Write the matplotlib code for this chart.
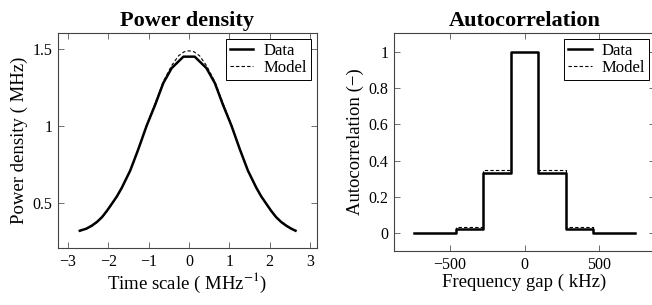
import numpy as np
import matplotlib
matplotlib.use("Agg")
import matplotlib.pyplot as plt

plt.rcParams["font.family"] = ["Liberation Serif", "DejaVu Serif"]
plt.rcParams["mathtext.fontset"] = "stix"

# power density (left panel)
t_data = [-2.71, -2.55, -2.41, -2.28, -2.16, -2.04, -1.92, -1.79, -1.67, -1.46,
          -1.26, -1.05, -0.84, -0.64, -0.43, -0.14, 0.14, 0.43, 0.64, 0.84,
          1.05, 1.26, 1.46, 1.67, 1.79, 1.92, 2.04, 2.16, 2.28, 2.41,
          2.53, 2.64]
p_data = [0.322, 0.335, 0.355, 0.380, 0.410, 0.450, 0.495, 0.545, 0.600, 0.712,
          0.850, 1.005, 1.140, 1.280, 1.378, 1.452, 1.452, 1.378, 1.280, 1.140,
          1.005, 0.850, 0.712, 0.600, 0.545, 0.495, 0.450, 0.410, 0.380, 0.355,
          0.336, 0.322]
t_model = [-2.71, -2.55, -2.41, -2.28, -2.16, -2.04, -1.92, -1.79, -1.67, -1.46,
           -1.26, -1.05, -0.84, -0.64, -0.43, -0.26, -0.12, 0.0, 0.12, 0.26,
           0.43, 0.64, 0.84, 1.05, 1.26, 1.46, 1.67, 1.79, 1.92, 2.04,
           2.16, 2.28, 2.41, 2.53, 2.64]
p_model = [0.320, 0.333, 0.352, 0.377, 0.407, 0.447, 0.492, 0.543, 0.598, 0.712,
           0.852, 1.010, 1.150, 1.290, 1.395, 1.458, 1.484, 1.490, 1.484, 1.458,
           1.395, 1.290, 1.150, 1.010, 0.852, 0.712, 0.598, 0.543, 0.492, 0.447,
           0.407, 0.377, 0.352, 0.334, 0.320]

# autocorrelation (right panel)
gap = [-740, -555, -370, -185, 0, 185, 370, 555, 740]
ac_data = [0.0, 0.0, 0.02, 0.33, 1.0, 0.33, 0.02, 0.0, 0.0]
ac_model = [0.0, 0.0, 0.033, 0.348, 1.0, 0.348, 0.033, 0.0, 0.0]

fig = plt.figure(figsize=(6.52, 3.05), dpi=100)
ax1 = fig.add_axes([0.089, 0.187, 0.397, 0.705])
ax2 = fig.add_axes([0.604, 0.177, 0.401, 0.715])

ax1.plot(t_data, p_data, color="black", lw=1.8, label="Data")
ax1.plot(t_model, p_model, color="black", lw=0.8, ls=(0, (3, 2)), label="Model")
ax1.set_xlim(-3.25, 3.17)
ax1.set_ylim(0.21, 1.606)
ax1.set_xticks([-3, -2, -1, 0, 1, 2, 3])
ax1.set_yticks([0.5, 1, 1.5])
ax1.set_yticklabels(["0.5", "1", "1.5"])
ax1.set_title("Power density", fontsize=16, fontweight="bold", pad=5)
ax1.set_xlabel("Time scale ( MHz$^{-1}$)", fontsize=13.5, labelpad=1)
ax1.set_ylabel("Power density ( MHz)", fontsize=13.5, labelpad=3)

ax2.step(gap, ac_model, where="mid", color="black", lw=0.8, ls=(0, (3, 2)), label="Model")
ax2.step(gap, ac_data, where="mid", color="black", lw=1.8, label="Data")
ax2.set_xlim(-877, 877)
ax2.set_ylim(-0.101, 1.107)
ax2.set_xticks([-500, 0, 500])
ax2.set_yticks([0, 0.2, 0.4, 0.6, 0.8, 1])
ax2.set_yticklabels(["0", "0.2", "0.4", "0.6", "0.8", "1"])
ax2.set_title("Autocorrelation", fontsize=16, fontweight="bold", pad=5)
ax2.set_xlabel("Frequency gap ( kHz)", fontsize=13.5, labelpad=1)
ax2.set_ylabel("Autocorrelation (−)", fontsize=13.5, labelpad=3)

for ax in (ax1, ax2):
    ax.tick_params(direction="in", top=True, right=True, length=4, width=0.6,
                   color="#555555", labelsize=11.5, pad=4)
    for s in ax.spines.values():
        s.set_color("#444444")
        s.set_linewidth(0.8)

legend_kw = dict(loc="upper right", fontsize=12, frameon=True, fancybox=False,
                 edgecolor="black", framealpha=1, borderpad=0.25, labelspacing=0.05,
                 handlelength=1.4, handletextpad=0.6, borderaxespad=0.35)

h, l = ax1.get_legend_handles_labels()
leg1 = ax1.legend(h, l, **legend_kw)
leg1.get_frame().set_linewidth(0.7)

h, l = ax2.get_legend_handles_labels()
leg2 = ax2.legend(h[::-1], l[::-1], **legend_kw)
leg2.get_frame().set_linewidth(0.7)

fig.savefig("out.png", dpi=100)
